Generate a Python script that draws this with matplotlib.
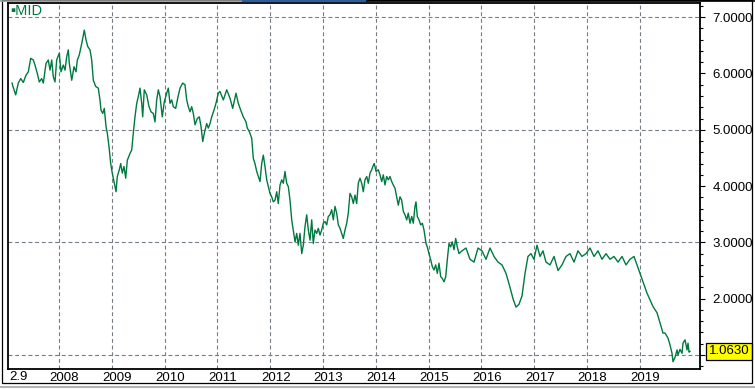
import matplotlib
matplotlib.use("Agg")
import matplotlib.pyplot as plt
from matplotlib.ticker import MultipleLocator, FixedLocator
from matplotlib.transforms import ScaledTranslation, blended_transform_factory
from matplotlib.lines import Line2D
from matplotlib.patches import Rectangle

# decimal year / MID value
years = [
    2007.110, 2007.134, 2007.180, 2007.229, 2007.275, 2007.324, 2007.375, 2007.419, 2007.464, 2007.513,
    2007.545, 2007.589, 2007.627, 2007.672, 2007.703, 2007.754, 2007.797, 2007.830, 2007.862, 2007.892,
    2007.924, 2007.956, 2008.006, 2008.038, 2008.081, 2008.114, 2008.146, 2008.176, 2008.195, 2008.241,
    2008.284, 2008.322, 2008.347, 2008.384, 2008.430, 2008.479, 2008.511, 2008.544, 2008.587, 2008.619,
    2008.650, 2008.695, 2008.744, 2008.776, 2008.795, 2008.828, 2008.858, 2008.890, 2008.915, 2008.947,
    2008.979, 2009.009, 2009.042, 2009.080, 2009.104, 2009.142, 2009.169, 2009.199, 2009.231, 2009.263,
    2009.294, 2009.345, 2009.377, 2009.407, 2009.439, 2009.472, 2009.502, 2009.534, 2009.566, 2009.585,
    2009.615, 2009.661, 2009.705, 2009.742, 2009.786, 2009.818, 2009.850, 2009.881, 2009.913, 2009.956,
    2009.994, 2010.040, 2010.070, 2010.102, 2010.134, 2010.165, 2010.210, 2010.248, 2010.292, 2010.343,
    2010.386, 2010.419, 2010.449, 2010.481, 2010.513, 2010.544, 2010.576, 2010.619, 2010.657, 2010.689,
    2010.722, 2010.752, 2010.797, 2010.828, 2010.860, 2010.892, 2010.936, 2010.973, 2011.017,
    2011.049, 2011.112, 2011.176, 2011.239, 2011.290, 2011.352, 2011.396, 2011.441, 2011.490, 2011.542,
    2011.566, 2011.604, 2011.650, 2011.680, 2011.712, 2011.744, 2011.775, 2011.807, 2011.839, 2011.869,
    2011.901, 2011.934, 2011.964, 2011.996, 2012.028, 2012.059, 2012.091, 2012.123, 2012.153, 2012.186,
    2012.218, 2012.248, 2012.280, 2012.312, 2012.343, 2012.375, 2012.407, 2012.437, 2012.470, 2012.502,
    2012.532, 2012.564, 2012.597, 2012.627, 2012.659, 2012.691, 2012.722, 2012.754, 2012.786, 2012.816,
    2012.848, 2012.881, 2012.911, 2012.943, 2012.975, 2013.006, 2013.038, 2013.070, 2013.100, 2013.132,
    2013.165, 2013.195, 2013.227, 2013.259, 2013.290, 2013.322, 2013.354, 2013.384, 2013.417, 2013.449,
    2013.479, 2013.511, 2013.543, 2013.574, 2013.606, 2013.638, 2013.668, 2013.701, 2013.733, 2013.763,
    2013.795, 2013.828, 2013.858, 2013.890, 2013.922, 2013.953, 2013.971, 2014.004, 2014.047, 2014.079,
    2014.112, 2014.142, 2014.174, 2014.206, 2014.237, 2014.269, 2014.301, 2014.331, 2014.364, 2014.396,
    2014.426, 2014.458, 2014.490, 2014.521, 2014.553, 2014.585, 2014.615, 2014.648, 2014.680, 2014.710,
    2014.742, 2014.761, 2014.786, 2014.818, 2014.850, 2014.881, 2014.913, 2014.951, 2014.975, 2015.007,
    2015.040, 2015.070, 2015.102, 2015.134, 2015.165, 2015.197, 2015.229, 2015.259, 2015.292, 2015.324,
    2015.354, 2015.386, 2015.418, 2015.449, 2015.481, 2015.513, 2015.543, 2015.576,
    2015.632, 2015.708, 2015.784, 2015.860, 2015.936, 2016.011, 2016.087, 2016.163, 2016.239, 2016.314,
    2016.390, 2016.466, 2016.542, 2016.598, 2016.655, 2016.712, 2016.769, 2016.826, 2016.882, 2016.939,
    2016.996, 2017.053, 2017.110, 2017.166, 2017.223, 2017.299, 2017.375, 2017.451, 2017.526, 2017.602,
    2017.678, 2017.754, 2017.829, 2017.905, 2017.981, 2018.057, 2018.133, 2018.208, 2018.284, 2018.360,
    2018.436, 2018.511, 2018.587, 2018.663, 2018.739, 2018.814, 2018.890, 2018.966, 2019.023, 2019.080,
    2019.136, 2019.193, 2019.250, 2019.326, 2019.383, 2019.439, 2019.477, 2019.534, 2019.572, 2019.610,
    2019.629, 2019.667, 2019.705, 2019.723, 2019.761, 2019.799, 2019.818, 2019.856, 2019.894, 2019.913,
    2019.932, 2019.951,
]
mid = [
    5.83, 5.75, 5.62, 5.83, 5.91, 5.84, 5.97, 6.03, 6.27, 6.24,
    6.15, 6.00, 5.85, 5.91, 5.83, 6.18, 6.24, 6.06, 6.24, 5.94,
    5.85, 6.24, 6.36, 6.03, 6.15, 6.06, 6.30, 6.42, 6.18, 5.88,
    6.12, 6.03, 6.24, 6.33, 6.53, 6.77, 6.60, 6.48, 6.42, 6.24,
    5.88, 5.77, 5.74, 5.53, 5.35, 5.29, 5.38, 5.06, 4.94, 4.70,
    4.40, 4.23, 4.08, 3.90, 4.17, 4.29, 4.40, 4.23, 4.35, 4.14,
    4.46, 4.58, 4.64, 4.94, 5.23, 5.47, 5.59, 5.74, 5.47, 5.23,
    5.71, 5.62, 5.41, 5.32, 5.29, 5.14, 5.53, 5.71, 5.59, 5.23,
    5.50, 5.65, 5.74, 5.47, 5.53, 5.41, 5.38, 5.56, 5.74, 5.83,
    5.80, 5.53, 5.41, 5.32, 5.41, 5.29, 5.09, 5.20, 5.23, 5.06,
    4.79, 4.94, 5.11, 5.03, 5.11, 5.23, 5.35, 5.47, 5.65,
    5.68, 5.53, 5.71, 5.56, 5.38, 5.65, 5.47, 5.35, 5.23, 5.14,
    5.03, 4.97, 4.85, 4.49, 4.40, 4.26, 4.17, 4.08, 4.40, 4.55,
    4.35, 4.11, 3.99, 3.87, 3.81, 3.72, 3.75, 3.90, 3.69, 4.02,
    4.11, 4.05, 4.26, 4.05, 3.99, 3.75, 3.40, 3.22, 3.01, 3.16,
    2.95, 3.16, 2.80, 2.95, 3.28, 3.49, 3.22, 3.04, 3.40, 2.98,
    3.22, 3.16, 3.25, 3.13, 3.22, 3.34, 3.37, 3.31, 3.46, 3.49,
    3.58, 3.40, 3.64, 3.52, 3.31, 3.25, 3.16, 3.07, 3.22, 3.34,
    3.52, 3.87, 3.81, 3.69, 3.84, 3.69, 4.05, 4.14, 4.05, 3.90,
    4.11, 4.17, 4.05, 4.23, 4.29, 4.37, 4.40, 4.26, 4.29, 4.20,
    4.08, 4.20, 4.02, 4.17, 4.11, 4.17, 4.08, 4.02, 3.96, 3.81,
    3.66, 3.81, 3.75, 3.55, 3.49, 3.40, 3.52, 3.34, 3.46, 3.34,
    3.64, 3.72, 3.46, 3.40, 3.31, 3.34, 3.22, 2.98, 2.92, 2.80,
    2.69, 2.57, 2.51, 2.60, 2.45, 2.63, 2.39, 2.36, 2.30, 2.39,
    2.69, 2.98, 2.92, 3.01, 2.87, 3.07, 2.92, 2.80,
    2.85, 2.90, 2.70, 2.65, 2.90, 2.85, 2.70, 2.90, 2.75, 2.65,
    2.60, 2.45, 2.20, 2.00, 1.85, 1.90, 2.05, 2.45, 2.75, 2.80,
    2.70, 2.95, 2.75, 2.85, 2.65, 2.60, 2.75, 2.50, 2.60, 2.75,
    2.80, 2.65, 2.85, 2.75, 2.80, 2.90, 2.75, 2.85, 2.70, 2.80,
    2.70, 2.75, 2.65, 2.75, 2.60, 2.70, 2.75, 2.55, 2.40, 2.25,
    2.10, 1.98, 1.86, 1.75, 1.57, 1.39, 1.39, 1.30, 1.18, 1.03,
    0.88, 0.96, 1.09, 1.00, 1.10, 1.03, 1.21, 1.27, 1.09, 1.21,
    1.05, 1.063,
]
year_ticks = list(range(2008, 2020))
year_labels = [str(y) for y in year_ticks]
y_ticks = [1, 2, 3, 4, 5, 6, 7]
y_labels = ['', '2.0000', '3.0000', '4.0000', '5.0000', '6.0000', '7.0000']
y_grid = [1, 3, 5, 7]
first_label = '2.9'
last_value = '1.0630'

W, H = 755, 389
GREEN = '#00793f'
GRID = '#777d85'
FS = 9.5

plt.rcParams['font.family'] = ['Liberation Sans', 'DejaVu Sans']
fig = plt.figure(figsize=(W / 100, H / 100), dpi=100)
fig.patch.set_facecolor('white')

ax = fig.add_axes([8 / W, (H - 369) / H, (700 - 8) / W, (369 - 3) / H])
ax.plot(years, mid, color=GREEN, lw=1.0)

ax.set_xlim(2007.034, 2020.140)
ax.set_ylim(0.751, 7.252)

for v in y_grid:
    ax.axhline(v, color=GRID, lw=0.8, ls=(0, (3.5, 2.5)), zorder=0)
for x in year_ticks:
    ax.axvline(x, color=GRID, lw=0.8, ls=(0, (3.5, 2.5)), zorder=0)

for s in ax.spines.values():
    s.set_linewidth(1.3)
    s.set_color('black')

ax.yaxis.tick_right()
ax.yaxis.set_major_locator(FixedLocator(y_ticks))
ax.set_yticklabels(y_labels)
ax.yaxis.set_minor_locator(MultipleLocator(0.2))
ax.tick_params(axis='y', which='major', direction='out', length=3.8, width=0.8, pad=5, labelsize=FS)
ax.tick_params(axis='y', which='minor', direction='out', length=2.2, width=0.8)

ax.set_xticks(year_ticks)
ax.set_xticklabels(year_labels)
ax.tick_params(axis='x', length=0, pad=2, labelsize=FS)
shift = ScaledTranslation(5.5 / 100, 0, fig.dpi_scale_trans)
for lbl in ax.get_xticklabels():
    lbl.set_transform(lbl.get_transform() + shift)
ax.text(0.002, -2 / 366, first_label, transform=ax.transAxes, ha='left', va='top', fontsize=FS)

# series name top left
fig.text(10 / W, 1 - 11 / H, '\u25aaMID', color=GREEN, fontsize=10.5, ha='left', va='center')

# last value box
tr = blended_transform_factory(fig.transFigure, ax.transData)
ax.text(729 / W, 1.063, last_value, transform=tr, ha='center', va='center', fontsize=FS,
        clip_on=False, zorder=5,
        bbox=dict(boxstyle='square,pad=0.2', fc='#ffff00', ec='black', lw=0.9))

# window frame
fig.add_artist(Rectangle((2 / W, (H - 383) / H), 750 / W, 383 / H, transform=fig.transFigure,
                         fill=False, ec='black', lw=0.9))
fig.add_artist(Line2D([0, 243 / W], [1 - 0.8 / H] * 2, color='#999999', lw=1.2))
fig.add_artist(Line2D([243 / W, 367 / W], [1 - 0.8 / H] * 2, color='#2e5c9a', lw=1.6))
fig.add_artist(Line2D([367 / W, 1], [1 - 0.8 / H] * 2, color='black', lw=1.2))
fig.add_artist(Line2D([0, 1], [1 - 386.5 / H] * 2, color='#b4b4b4', lw=1.5))

plt.savefig('out.png', dpi=100)
